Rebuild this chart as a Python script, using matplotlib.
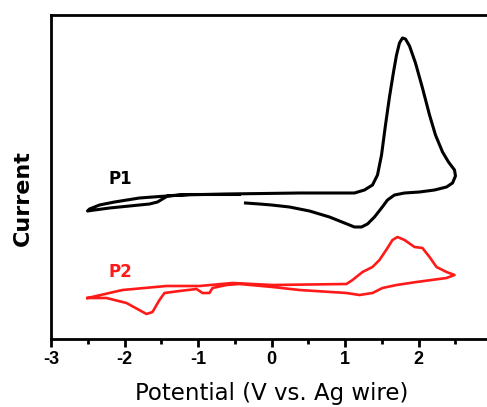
import matplotlib
matplotlib.use("Agg")
import matplotlib.pyplot as plt
from matplotlib.ticker import MultipleLocator, NullLocator

# P1 cyclic voltammogram (potential V, current arb. units)
p1_potential = [-0.354, -0.163, 0.0, 0.245, 0.517, 0.789, 0.993, 1.129, 1.224, 1.306,
                1.401, 1.497, 1.578, 1.673, 1.810, 2.014, 2.218, 2.381, 2.463, 2.503,
                2.490, 2.408, 2.327, 2.231, 2.150, 2.054, 1.959, 1.878, 1.823, 1.782,
                1.741, 1.701, 1.660, 1.605, 1.551, 1.497, 1.442, 1.374, 1.265, 1.129,
                0.381, -0.612, -1.252, -1.429, -1.796, -2.136, -2.340, -2.476, -2.503,
                -2.408, -2.204, -1.932, -1.660, -1.551, -1.483, -1.415, -1.116, -0.435]
p1_current = [13.6, 13.5, 13.4, 13.2, 12.8, 12.2, 11.6, 11.2, 11.2, 11.5,
              12.2, 13.1, 13.9, 14.4, 14.6, 14.7, 14.9, 15.2, 15.6, 16.3,
              16.9, 17.7, 18.7, 20.4, 22.4, 25.1, 27.6, 29.3, 30.0, 30.1,
              29.6, 28.4, 26.7, 24.2, 21.4, 18.4, 16.4, 15.4, 14.9, 14.6,
              14.6, 14.5, 14.4, 14.3, 14.1, 13.7, 13.4, 13.0, 12.8,
              12.9, 13.1, 13.3, 13.5, 13.7, 14.0, 14.3, 14.45, 14.45]

# P2 cyclic voltammogram
p2_potential = [-2.503, -2.027, -1.429, -0.980, -0.531, 0.014, 1.020, 1.102, 1.238, 1.374,
                1.469, 1.578, 1.646, 1.714, 1.810, 1.946, 2.054, 2.150, 2.245, 2.381,
                2.490, 2.381, 1.973, 1.701, 1.510, 1.374, 1.197, 1.020, 0.381, 0.014,
                -0.435, -0.612, -0.803, -0.844, -0.939, -1.020, -1.252, -1.456, -1.524,
                -1.619, -1.701, -1.973, -2.245, -2.503]
p2_current = [4.1, 4.9, 5.3, 5.3, 5.6, 5.4, 5.5, 5.9, 6.7, 7.2,
              7.9, 9.1, 9.9, 10.2, 9.9, 9.2, 9.1, 8.2, 7.2, 6.7,
              6.4, 6.1, 5.7, 5.4, 5.1, 4.6, 4.4, 4.6, 4.9, 5.2,
              5.5, 5.4, 5.1, 4.6, 4.6, 5.0, 4.8, 4.6, 3.9,
              2.7, 2.5, 3.6, 4.1, 4.1]

x_ticks = [-3, -2, -1, 0, 1, 2, 3]
x_ticklabels = ["-3", "-2", "-1", "0", "1", "2", "3"]

plt.rcParams['font.family'] = ['DejaVu Sans']

fig = plt.figure(figsize=(4.87, 4.07), dpi=100)
ax = fig.add_axes([51/487, 1 - 339/407, (492 - 51)/487, (339 - 15)/407])

ax.plot(p1_potential, p1_current, color='black', lw=2.2, solid_joinstyle='round')
ax.plot(p2_potential, p2_current, color='#ff1a1a', lw=1.9, solid_joinstyle='round')

ax.set_xlim(-3, 3)
ax.set_ylim(0, 32.4)
ax.set_xticks(x_ticks)
ax.set_xticklabels(x_ticklabels, fontweight='bold', fontsize=13, family='Liberation Sans')
ax.xaxis.set_minor_locator(MultipleLocator(0.5))
ax.yaxis.set_major_locator(NullLocator())
ax.tick_params(axis='x', which='major', direction='out', length=6, width=2.0, pad=3)
ax.tick_params(axis='x', which='minor', direction='out', length=3.5, width=2.0)
for s in ax.spines.values():
    s.set_linewidth(2.0)

ax.set_xlabel("Potential (V vs. Ag wire)", fontsize=16.5, labelpad=10)
ax.set_ylabel("Current", fontsize=16, fontweight='bold')
ax.yaxis.set_label_coords(-0.040, 0.435)

ax.text(-2.22, 15.5, "P1", fontsize=12, fontweight='bold', color='black')
ax.text(-2.22, 6.2, "P2", fontsize=12, fontweight='bold', color='#ff1a1a')

fig.savefig("out.png", dpi=100)
